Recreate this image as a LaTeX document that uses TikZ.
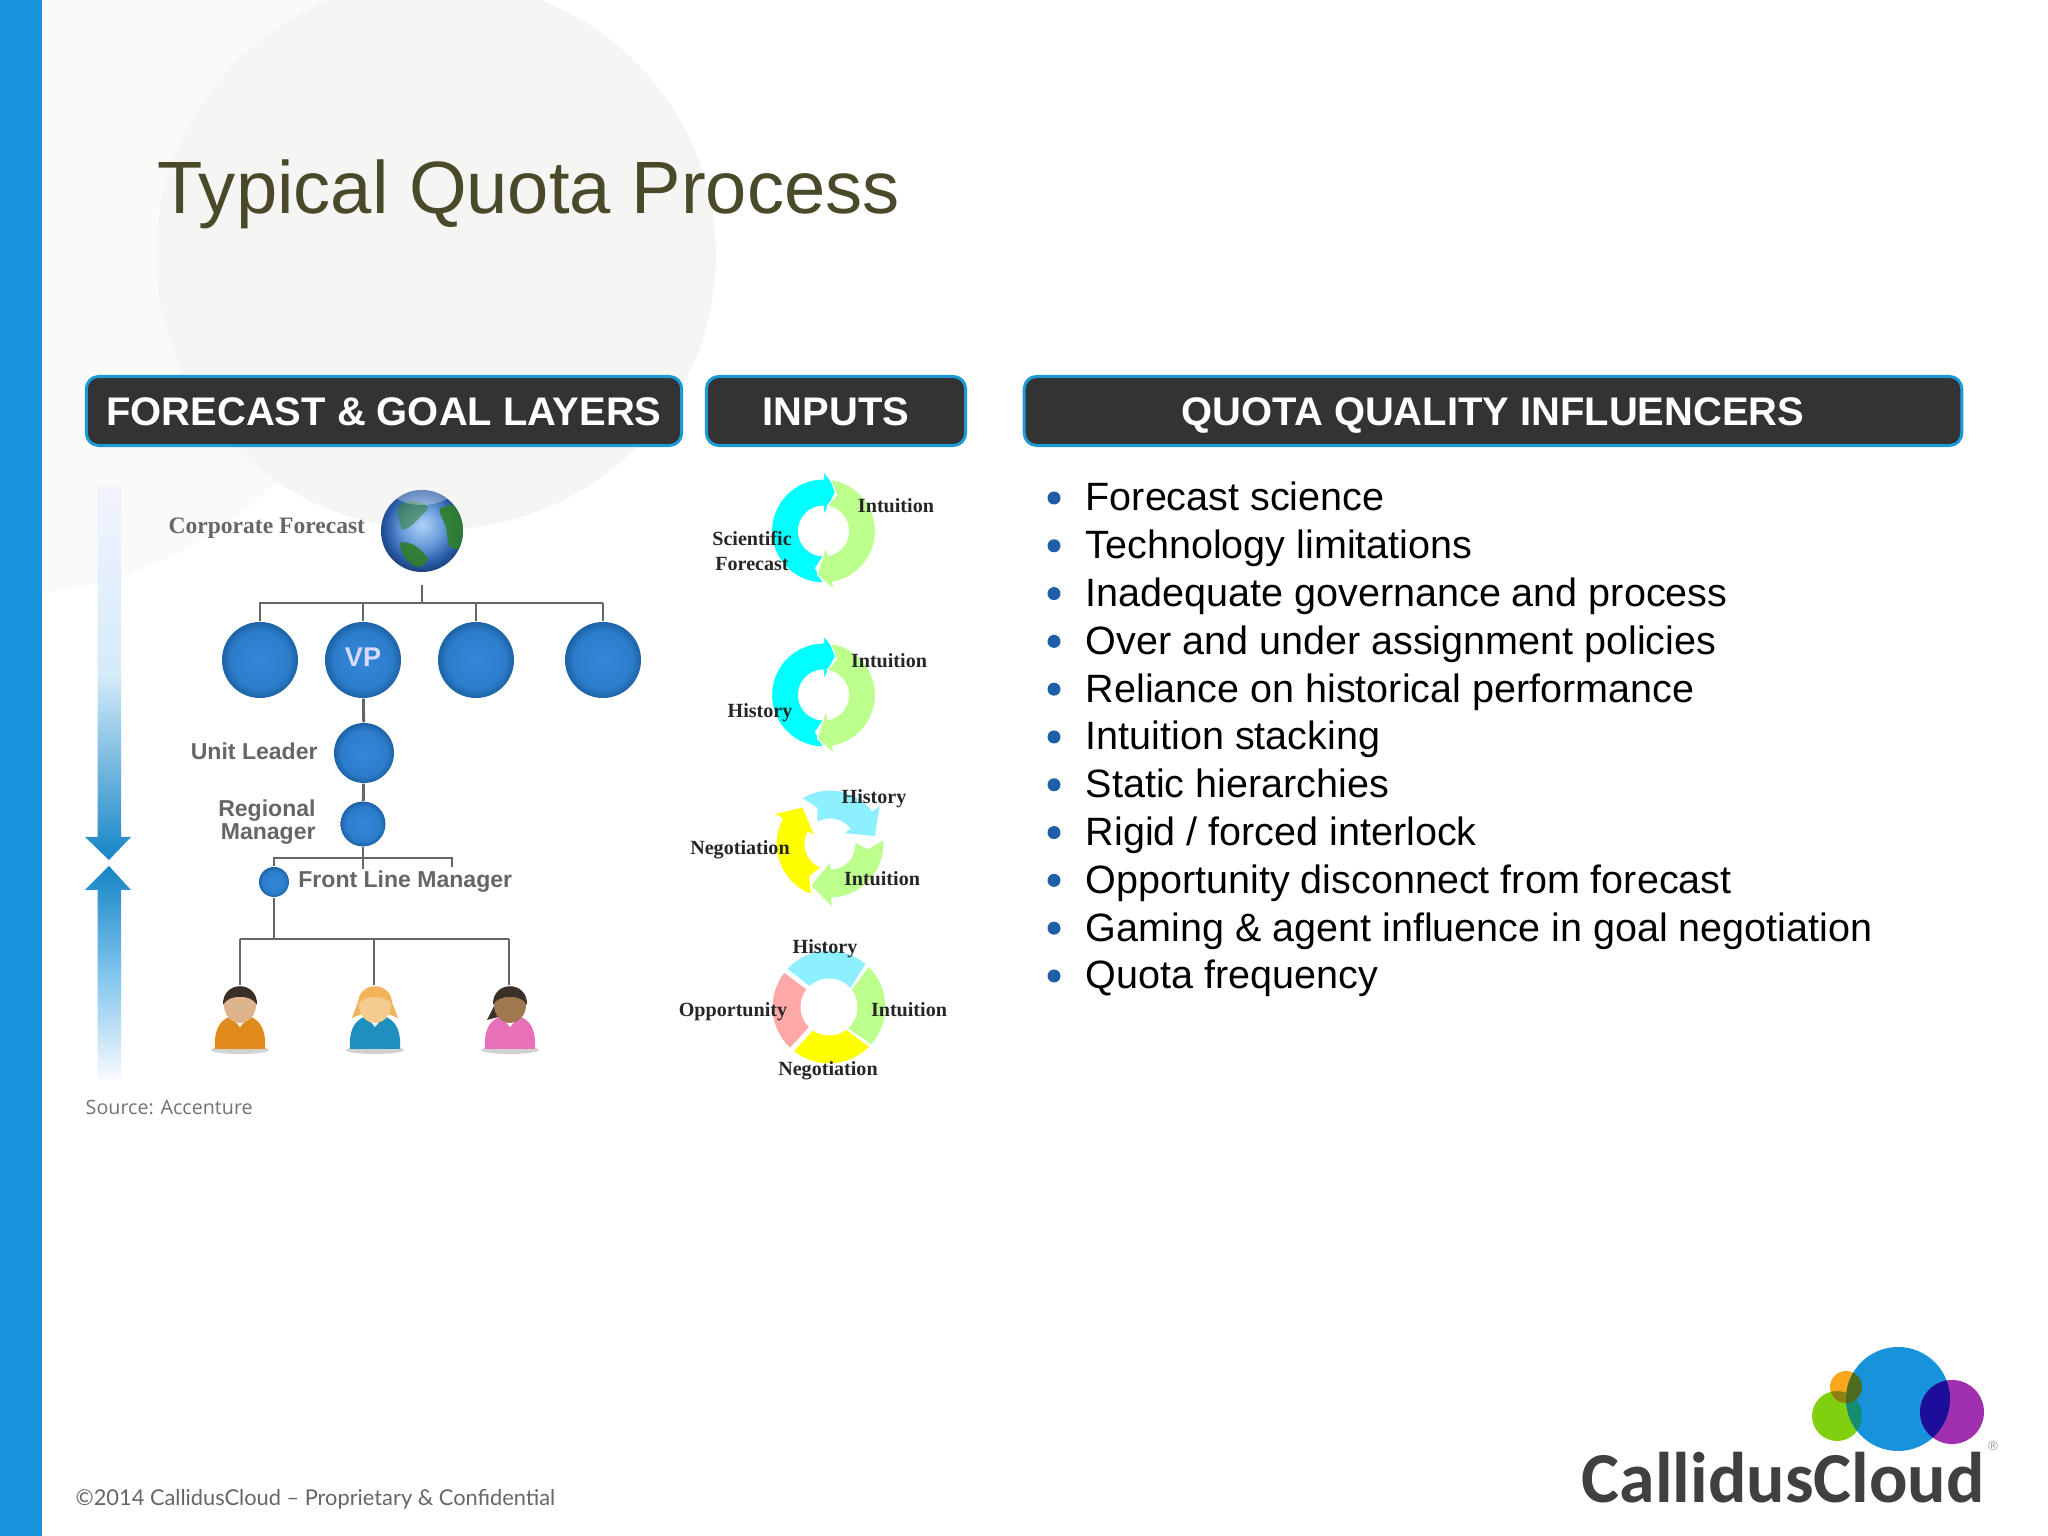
\documentclass[tikz,border=0pt]{standalone}
\usepackage{fontspec}
\usepackage{xcolor}
\usetikzlibrary{positioning}
\setmainfont{Liberation Sans}
\newfontfamily\cyclefont{Liberation Serif}
\newfontfamily\sourcefont{Open Sans}
\newfontfamily\footfont{Lato}
\newfontfamily\logofont{Carlito}
\definecolor{CC-BAR}{HTML}{1793DC}
\definecolor{CC-EDGE}{HTML}{1C9AD6}
\definecolor{CC-DARK}{HTML}{333333}
\definecolor{CC-TITLE}{HTML}{4A4A2A}
\definecolor{CC-BULLET}{HTML}{1F5FA8}
\definecolor{CC-SHADE}{HTML}{F5F5F3}
\definecolor{CC-PALE}{HTML}{FAFAF9}
\definecolor{CC-LINE}{HTML}{666666}
\definecolor{CC-CYAN}{HTML}{00FFFF}
\definecolor{CC-SKY}{HTML}{8CF0FF}
\definecolor{CC-LIME}{HTML}{BCFF8C}
\definecolor{CC-PINK}{HTML}{FFA8A8}
\definecolor{CC-YELLOW}{HTML}{FFFF00}
\definecolor{BALL-A}{HTML}{3288D8}
\definecolor{BALL-B}{HTML}{2C7DCC}
\definecolor{BALL-C}{HTML}{1D62A4}
\definecolor{EARTH-A}{HTML}{AED2F5}
\definecolor{EARTH-B}{HTML}{6C9EDC}
\definecolor{EARTH-C}{HTML}{295CA8}
\definecolor{EARTH-D}{HTML}{142E5C}
\definecolor{EARTH-G}{HTML}{2F7F2A}
\definecolor{SHIRT-A}{HTML}{E08A1E}
\definecolor{SHIRT-B}{HTML}{1F8FC0}
\definecolor{SHIRT-C}{HTML}{E870B8}
\definecolor{HAIR-A}{HTML}{3A3028}
\definecolor{HAIR-B}{HTML}{F2B45A}
\definecolor{SKIN-A}{HTML}{DDB48C}
\definecolor{SKIN-B}{HTML}{F5CC90}
\definecolor{SKIN-C}{HTML}{A07850}
\definecolor{LOGO-G}{HTML}{80D010}
\definecolor{LOGO-O}{HTML}{FBA61C}
\definecolor{LOGO-P}{HTML}{A030B0}
\definecolor{LOGO-BP}{HTML}{1B0F9A}
\definecolor{LOGO-BG}{HTML}{158C70}
\definecolor{LOGO-BO}{HTML}{4F6B1E}
\definecolor{LOGO-GO}{HTML}{8E8010}
\pgfdeclareradialshading{bluedisk}{\pgfpointorigin}{color(0bp)=(BALL-A); color(19bp)=(BALL-B); color(25bp)=(BALL-C); color(50bp)=(BALL-C)}
\pgfdeclareradialshading{earthball}{\pgfpoint{0bp}{4bp}}{color(0bp)=(EARTH-A); color(12bp)=(EARTH-B); color(22bp)=(EARTH-C); color(30bp)=(EARTH-D); color(50bp)=(EARTH-D)}
\tikzset{
	head_box/.style={draw=CC-EDGE,fill=CC-DARK,line width=0.85pt,rounded corners=3.5pt,text=white,minimum height=0.69cm,text height=8.1pt,text depth=0pt,inner sep=0,font=\fontsize{11.35}{14}\bfseries\selectfont},
	ball/.style={circle,shading=bluedisk,inner sep=0},
	tree_line/.style={draw=CC-LINE,line width=0.8pt},
	tag/.style={inner sep=0,text=CC-LINE,font=\fontsize{6.55}{6.5}\bfseries\selectfont},
	cycle_tag/.style={inner sep=0,text=black!85,font=\cyclefont\fontsize{5.72}{7}\bfseries\selectfont},
	seg/.style={draw=white,line width=0.3pt}
}
% one bent arrow of a cycle: centre, colour, tail, base and tip angle
\newcommand{\cyclearrow}[5]{
	\path[seg,fill=#2] ([shift={(#3:\cycR)}]#1) arc[start angle=#3,end angle=#4,radius=\cycR] -- ([shift={(#4:\cycW)}]#1) -- ([shift={(#5:\cycT)}]#1) -- ([shift={(#4:\cycw)}]#1) -- ([shift={(#4:\cycr)}]#1) arc[start angle=#4,end angle=#3,radius=\cycr] -- ([shift={(#3-12:\cycN)}]#1) -- cycle;
}
% one block of the closed ring: centre, colour, outer and inner angles
\newcommand{\ringseg}[6]{
	\path[seg,fill=#2] ([shift={(#3:57)}]#1) arc[start angle=#3,end angle=#4,radius=57] -- ([shift={(#6:28)}]#1) arc[start angle=#6,end angle=#5,radius=28] -- cycle;
}
% one person: position, shirt, hair, skin, extra hair
\newcommand{\person}[5]{
	\begin{scope}[shift={(#1,484)}]
		\fill[black!18] (0,2) ellipse (29 and 4);
		#5
		\fill[#2] (-25,3) .. controls (-26,20) and (-22,32) .. (-8,36) -- (8,36) .. controls (22,32) and (26,20) .. (25,3) -- cycle;
		\fill[white] (-10,37) -- (10,37) -- (0,25) -- cycle;
		\fill[#4] (0,47) ellipse (16 and 18);
		\fill[#3] (-17,47) .. controls (-18,72) and (18,72) .. (17,47) .. controls (12,58) and (-12,58) .. (-17,47) -- cycle;
	\end{scope}
}

\begin{document}
\begin{tikzpicture}[x=0.01cm,y=0.01cm]
	\useasboundingbox (0,0) rectangle (2048,1536);
	\clip (0,0) rectangle (2048,1536);

	% draw background
	\fill[white] (0,0) rectangle (2048,1536);
	\fill[CC-PALE] (5,1324) circle (382);
	\fill[CC-SHADE] (436,1281) ellipse (280 and 275);
	\fill[CC-BAR] (0,0) rectangle (42,1536);

	% draw title and headers
	\node (title) at (157,1322) [anchor=base west,inner sep=0,text=CC-TITLE,font=\fontsize{21.09}{25}\selectfont] {Typical Quota Process};
	\node (head_layers) at (384,1125) [head_box,minimum width=5.95cm] {FORECAST \& GOAL LAYERS};
	\node (head_inputs) at (836,1125) [head_box,minimum width=2.59cm] {INPUTS};
	\node (head_quality) at (1493,1125) [head_box,minimum width=9.37cm] {QUOTA QUALITY INFLUENCERS};

	% draw bullet list
	\foreach \t [count=\i from 0] in {Forecast science,Technology limitations,Inadequate governance and process,Over and under assignment policies,Reliance on historical performance,Intuition stacking,Static hierarchies,Rigid / forced interlock,Opportunity disconnect from forecast,Gaming \& agent influence in goal negotiation,Quota frequency} {
		\pgfmathsetmacro{\by}{1025-47.8*\i}
		\node (item_\i) at (1085,\by) [anchor=base west,inner sep=0,font=\fontsize{11.24}{14}\selectfont] {\t};
		\node (dot_\i) at (1054,\by+13) [circle,fill=CC-BULLET,inner sep=0,minimum size=0.13cm] {};
	}

	% draw side arrows
	\shade[top color=blue!5!white,bottom color=CC-BAR!90!black,middle color=CC-BAR!18!white] (97.5,1049) -- (121,1049) -- (121,699) -- (131,699) -- (109,676) -- (85,699) -- (97.5,699) -- cycle;
	\shade[top color=CC-BAR!90!black,bottom color=blue!2!white,middle color=CC-BAR!55!white] (109,670) -- (131,646) -- (121,646) -- (121,456) -- (97.5,456) -- (97.5,646) -- (85,646) -- cycle;

	% draw tree nodes
	\node (globe) at (422,1005) [circle,shading=earthball,inner sep=0,minimum size=0.82cm] {};
	\begin{scope}[shift={(422,1005)}]
		\clip (0,0) circle (41);
		\fill[EARTH-G,opacity=0.55] plot[smooth cycle] coordinates {(-24,24) (-8,30) (6,24) (-2,14) (-10,6) (-20,2)};
		\fill[EARTH-G,opacity=0.9] plot[smooth cycle] coordinates {(18,22) (42,24) (44,-14) (28,-16) (24,4)};
		\fill[EARTH-G,opacity=0.9] plot[smooth cycle] coordinates {(-22,-12) (-8,-14) (6,-28) (-4,-36) (-16,-28)};
		\fill[white,opacity=0.3] (0,48) ellipse (36 and 22);
	\end{scope}
	\node (ball_a) at (260,876) [ball,minimum size=0.76cm] {};
	\node (ball_vp) at (363,876) [ball,minimum size=0.76cm,text depth=1.6pt,text=blue!15!white,font=\fontsize{7.7}{9}\bfseries\selectfont] {VP};
	\node (ball_c) at (476,876) [ball,minimum size=0.76cm] {};
	\node (ball_d) at (603,876) [ball,minimum size=0.76cm] {};
	\node (ball_unit) at (364,783) [ball,minimum size=0.6cm] {};
	\node (ball_reg) at (363,712) [ball,minimum size=0.45cm] {};
	\node (ball_flm) at (274,654) [ball,minimum size=0.3cm] {};

	% draw tree labels
	\node (tag_corp) [left=0.145cm of globe,yshift=0.03cm,inner sep=0,text=black!60,font=\cyclefont\fontsize{6.7}{8}\bfseries\selectfont] {Corporate Forecast};
	\node (tag_unit) [left=0.15cm of ball_unit,yshift=0.02cm,tag] {Unit Leader};
	\node (tag_reg) [left=0.235cm of ball_reg,yshift=0.02cm,tag,align=right] {Regional\\Manager};
	\node (tag_flm) [right=0.08cm of ball_flm,tag] {Front Line Manager};

	% draw tree lines
	\coordinate (stem_top) at (422,951);
	\coordinate (bus_top) at (422,933);
	\coordinate (bus_left) at (259,933);
	\coordinate (bus_right) at (603,933);
	\draw[tree_line] (stem_top) to (bus_top);
	\draw[tree_line] (bus_left) to (bus_right);
	\foreach \n in {ball_a,ball_vp,ball_c,ball_d} {
		\draw[tree_line] (\n.north) to (\n.north |- bus_top);
	}
	\draw[tree_line] (ball_vp) to (ball_unit);
	\draw[tree_line] (ball_unit) to (ball_reg);
	\coordinate (flm_left) at (274,678);
	\coordinate (flm_right) at (452,678);
	\coordinate (flm_drop) at (452,669);
	\coordinate (reg_drop) at (363,667);
	\draw[tree_line] (ball_flm.north) to (flm_left) to (flm_right) to (flm_drop);
	\draw[tree_line] (ball_reg.south) to (reg_drop);
	\coordinate (low_left) at (240,597);
	\coordinate (low_right) at (509,597);
	\draw[tree_line] (ball_flm.south) to (ball_flm.south |- low_left);
	\draw[tree_line] (low_left) to (low_right);
	\coordinate (emp_a) at (240,551);
	\coordinate (emp_b) at (374,551);
	\coordinate (emp_c) at (509,551);
	\foreach \n in {emp_a,emp_b,emp_c} {
		\draw[tree_line] (\n) to (\n |- low_left);
	}

	% draw people
	\person{240}{SHIRT-A}{HAIR-A}{SKIN-A}{}
	\person{375}{SHIRT-B}{HAIR-B}{SKIN-B}{\fill[HAIR-B] (-23,34) -- (-14,58) -- (14,58) -- (23,34) -- (8,40) -- (-8,40) -- cycle;}
	\person{510}{SHIRT-C}{HAIR-A}{SKIN-C}{\fill[HAIR-A] (-23,32) -- (-12,54) -- (-8,36) -- cycle;}

	% draw source
	\node (source) at (85,421) [anchor=base west,inner sep=0,text=black!55,font=\sourcefont\fontsize{5.6}{7}\selectfont] {Source: Accenture};

	% draw cycles
	\def\cycR{52}\def\cycr{25}\def\cycW{60}\def\cycw{15}\def\cycT{44}\def\cycN{38}
	\coordinate (ring_a) at (823.5,1005);
	\coordinate (ring_b) at (823.5,841);
	\foreach \n in {ring_a,ring_b} {
		\cyclearrow{\n}{CC-CYAN}{270}{90}{72}
		\cyclearrow{\n}{CC-LIME}{82}{-80}{-98}
	}
	\def\cycR{54}\def\cycr{25}\def\cycW{64}\def\cycw{17}\def\cycT{46}\def\cycN{38}
	\coordinate (ring_c) at (830,692);
	\cyclearrow{ring_c}{CC-SKY}{122}{38}{9}
	\cyclearrow{ring_c}{CC-LIME}{5}{-88}{-115}
	\cyclearrow{ring_c}{CC-YELLOW}{250}{152}{126}
	\coordinate (ring_d) at (829,529);
	\ringseg{ring_d}{CC-SKY}{138}{49}{134}{40}
	\ringseg{ring_d}{CC-LIME}{46}{-42}{38}{-50}
	\ringseg{ring_d}{CC-YELLOW}{-44}{-129}{-52}{-126}
	\ringseg{ring_d}{CC-PINK}{227}{142}{226}{141}

	% draw cycle labels
	\node (intu_a) at (896,1030) [cycle_tag] {Intuition};
	\node (sci_a) at (752,985) [cycle_tag,align=center,font=\cyclefont\fontsize{5.72}{7.1}\bfseries\selectfont] {Scientific\\Forecast};
	\node (intu_b) at (889,875) [cycle_tag] {Intuition};
	\node (hist_b) at (760,823) [cycle_tag] {History};
	\node (hist_c) at (874,737) [cycle_tag] {History};
	\node (nego_c) at (740,686) [cycle_tag] {Negotiation};
	\node (intu_c) at (882,657) [cycle_tag] {Intuition};
	\node (hist_d) at (825,587) [cycle_tag] {History};
	\node (oppo_d) at (733,524) [cycle_tag] {Opportunity};
	\node (intu_d) at (909,526) [cycle_tag] {Intuition};
	\node (nego_d) at (828,465) [cycle_tag] {Negotiation};

	% draw footer
	\node (foot) at (75,31) [anchor=base west,inner sep=0,text=black!60,font=\footfont\fontsize{6.2}{7}\selectfont] {©2014 CallidusCloud – Proprietary \& Confidential};

	% draw logo
	\fill[LOGO-G] (1837,120) circle (25);
	\fill[LOGO-O] (1846,149) circle (16);
	\begin{scope}
		\clip (1837,120) circle (25);
		\fill[LOGO-GO] (1846,149) circle (16);
	\end{scope}
	\fill[CC-BAR] (1898,137) circle (52);
	\fill[LOGO-P] (1952,124) circle (32);
	\begin{scope}
		\clip (1898,137) circle (52);
		\fill[LOGO-BP] (1952,124) circle (32);
		\fill[LOGO-BG] (1837,120) circle (25);
		\fill[LOGO-BO] (1846,149) circle (16);
	\end{scope}
	\node (logo_text) at (1581,33) [anchor=base west,inner sep=0,text=black!75,font=\logofont\fontsize{20.4}{24}\bfseries\selectfont] {CallidusCloud};
	\node (logo_reg) at (1993,90) [inner sep=0,text=black!40,font=\fontsize{3.8}{4}\selectfont] {®};
\end{tikzpicture}
\end{document}
